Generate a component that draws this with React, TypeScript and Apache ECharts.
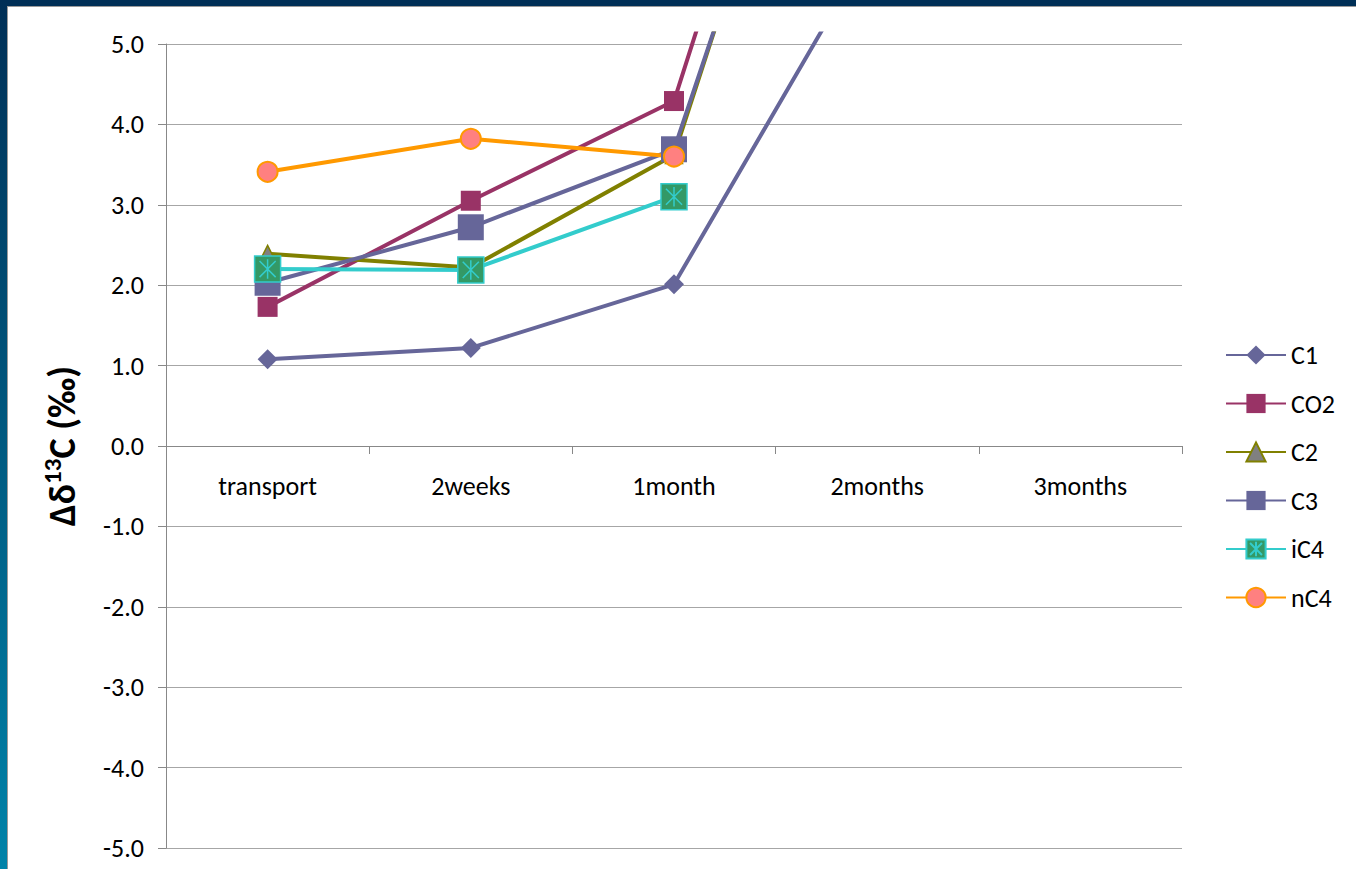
import React, { useEffect, useRef } from "react";
import * as echarts from "echarts";

const categories = ["transport", "2weeks", "1month", "2months", "3months"];
const yTicks = [-5, -4, -3, -2, -1, 0, 1, 2, 3, 4, 5];

const seriesNames = ["C1", "CO2", "C2", "C3", "iC4", "nC4"];
const c1Values = [1.08, 1.22, 2.01, 6.35, null];
const co2Values = [1.73, 3.05, 4.29, 12.2, null];
const c2Values = [2.39, 2.22, 3.62, 11.4, null];
const c3Values = [2.03, 2.72, 3.69, 11.2, null];
const ic4Values = [2.2, 2.19, 3.1, null, null];
const nc4Values = [3.41, 3.82, 3.6, null, null];

const FONT = "Carlito, Lato, 'Liberation Sans', sans-serif";
const ASTERISK_SQUARE =
  "path://M0 0H20V20H0Z M10 2.5V17.5 M3.8 3.8L16.2 16.2 M16.2 3.8L3.8 16.2";

export default function App() {
  const ref = useRef<HTMLDivElement>(null);

  useEffect(() => {
    if (!ref.current) return;
    const chart = echarts.init(ref.current, undefined, { renderer: "svg" });

    const mk = (
      name: string,
      data: (number | null)[],
      lineColor: string,
      symbol: string,
      symbolSize: number,
      fill: string,
      border: string,
      borderWidth: number
    ) => ({
      name,
      type: "line",
      xAxisIndex: 1,
      yAxisIndex: 1,
      data,
      symbol,
      symbolSize,
      showSymbol: true,
      connectNulls: false,
      clip: true,
      lineStyle: { color: lineColor, width: 4 },
      itemStyle: { color: fill, borderColor: border, borderWidth, opacity: 1 },
      emphasis: { disabled: true },
    });

    const option = {
      animation: false,
      backgroundColor: "#ffffff",
      textStyle: { fontFamily: FONT },
      graphic: [
        {
          type: "rect",
          shape: { x: 0, y: 0, width: 1356, height: 6 },
          style: { fill: "#002F56" },
          z: 100,
        },
        {
          type: "rect",
          shape: { x: 0, y: 6, width: 1356, height: 1 },
          style: { fill: "#9a9a9a" },
          z: 100,
        },
        {
          type: "rect",
          shape: { x: 0, y: 0, width: 7, height: 869 },
          style: {
            fill: new echarts.graphic.LinearGradient(0, 0, 0, 1, [
              { offset: 0, color: "#002F56" },
              { offset: 1, color: "#0083A9" },
            ]),
          },
          z: 101,
        },
        {
          type: "rect",
          shape: { x: 7, y: 6, width: 1, height: 863 },
          style: { fill: "#9a9a9a" },
          z: 101,
        },
      ],
      legend: {
        orient: "vertical",
        left: 1220,
        top: 337,
        itemWidth: 60,
        itemHeight: 24,
        itemGap: 22.5,
        data: seriesNames,
        textStyle: { fontSize: 26, lineHeight: 24, color: "#000", fontFamily: FONT },
        selectedMode: false,
      },
      grid: [
        { left: 166, right: 174, top: 44, bottom: 21, outerBoundsMode: "none", containLabel: false },
        { left: 166, right: 174, top: 33.5, bottom: 21, outerBoundsMode: "none", containLabel: false },
      ],
      xAxis: [
        {
          type: "category",
          gridIndex: 0,
          data: categories,
          boundaryGap: true,
          position: "bottom",
          offset: -402,
          axisLine: { onZero: false, lineStyle: { color: "#888888", width: 1 } },
          axisTick: { show: true, length: 8, interval: 0, lineStyle: { color: "#888888" } },
          axisLabel: {
            interval: 0,
            margin: 27,
            fontSize: 26,
            color: "#000",
            fontFamily: FONT,
          },
          splitLine: { show: false },
        },
        {
          type: "category",
          gridIndex: 1,
          data: categories,
          boundaryGap: true,
          show: false,
        },
      ],
      yAxis: [
        {
          type: "value",
          gridIndex: 0,
          min: yTicks[0],
          max: yTicks[yTicks.length - 1],
          interval: 1,
          name: "{a|Δδ}{s|13}{a|C (‰)}",
          nameLocation: "middle",
          nameGap: 82,
          nameTextStyle: {
            fontSize: 38,
            fontWeight: "bold",
            color: "#000",
            fontFamily: FONT,
            rich: {
              a: { fontSize: 38, fontWeight: "bold", color: "#000", fontFamily: FONT, lineHeight: 44 },
              s: {
                fontSize: 25,
                fontWeight: "bold",
                color: "#000",
                fontFamily: FONT,
                verticalAlign: "top",
                lineHeight: 44,
                padding: [0, 0, 16, 0],
              },
            },
          },
          axisLine: { show: true, lineStyle: { color: "#888888", width: 1 } },
          axisTick: { show: true, length: 8, lineStyle: { color: "#888888" } },
          axisLabel: {
            margin: 22,
            fontSize: 26,
            color: "#000",
            fontFamily: FONT,
            formatter: (v: number) => v.toFixed(1),
          },
          splitLine: { show: true, lineStyle: { color: "#a6a6a6", width: 1 } },
        },
        {
          type: "value",
          gridIndex: 1,
          min: -5,
          max: 5.13,
          show: false,
          splitLine: { show: false },
        },
      ],
      series: [
        mk("C1", c1Values, "#666699", "diamond", 20, "#666699", "#666699", 0),
        mk("CO2", co2Values, "#993366", "rect", 20, "#993366", "#993366", 0),
        mk("C2", c2Values, "#808000", "triangle", 17, "#808080", "#808000", 1.5),
        mk("C3", c3Values, "#666699", "rect", 26, "#666699", "#666699", 0),
        mk("iC4", ic4Values, "#33CCCC", ASTERISK_SQUARE, 26, "#339966", "#33CCCC", 1.5),
        mk("nC4", nc4Values, "#FF9900", "circle", 20, "#FF8080", "#FF9900", 2),
      ],
    };

    chart.setOption(option as any);
    return () => {
      chart.dispose();
    };
  }, []);

  return (
    <div
      ref={ref}
      style={{ position: "fixed", left: 0, top: 0, width: 1356, height: 869 }}
    />
  );
}
